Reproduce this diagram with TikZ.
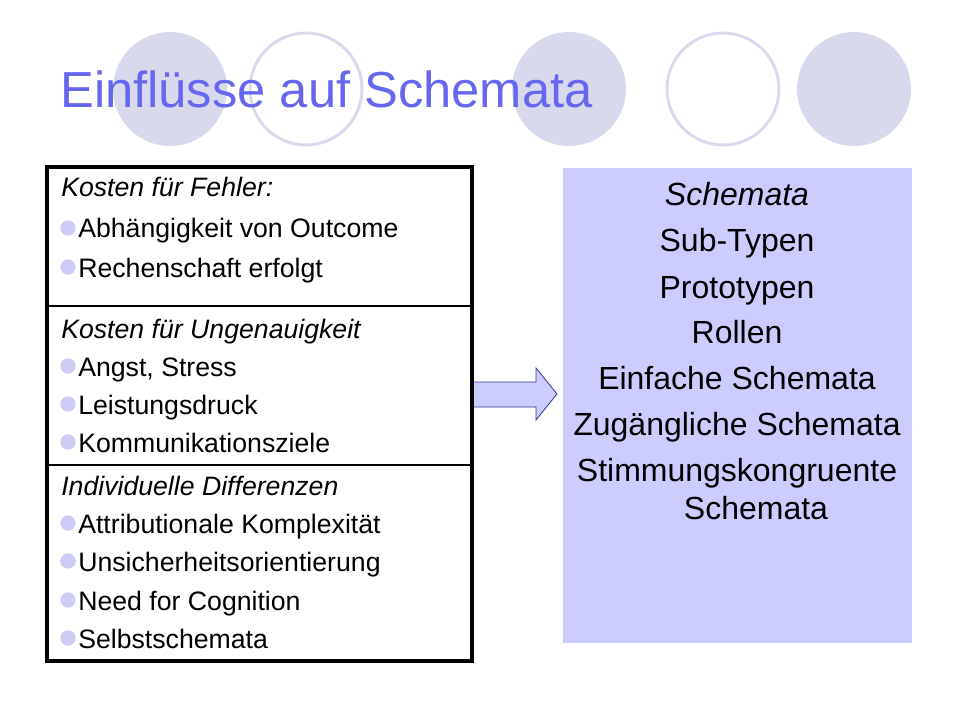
\documentclass[tikz,border=0pt]{standalone}
\usepackage{fontspec}
\setmainfont{Liberation Sans}
\definecolor{titleblue}{HTML}{6666EE}
\definecolor{circlefill}{HTML}{D9D9EE}
\definecolor{boxfill}{HTML}{CCCCFF}
\definecolor{bulletcol}{HTML}{CCCCF5}
\definecolor{arrowline}{HTML}{333399}
\begin{document}
\begin{tikzpicture}[x=0.75pt,y=-0.75pt,
  fullcirc/.style={fill=circlefill,draw=none},
  ringcirc/.style={draw=circlefill,line width=2.2pt,fill=white},
  heading/.style={anchor=base west,inner sep=0pt,font=\fontsize{20}{24}\selectfont\itshape},
  item/.style={anchor=base west,inner sep=0pt,font=\fontsize{20}{24}\selectfont},
  dot/.style={circle,fill=bulletcol,minimum size=11.5pt,inner sep=0pt},
  rline/.style={anchor=base,inner sep=0pt,font=\fontsize{24}{29}\selectfont},
  sepline/.style={line width=0.8pt}
]
\useasboundingbox (0,0) rectangle (960,720);
% decorative circles
\fill[fullcirc] (170,89) circle (57);
\draw[ringcirc] (306,89) circle (56);
\fill[fullcirc] (569,89) circle (57);
\draw[ringcirc] (723,89) circle (56);
\fill[fullcirc] (854,89) circle (57);
% title
\node[anchor=base west,inner sep=0pt,text=titleblue,font=\fontsize{38}{44}\selectfont] (title) at (60,108) {Einflüsse auf Schemata};
% left box
\coordinate (lbA) at (47,167);
\coordinate (lbB) at (472,661);
\draw[sepline] (47,306) -- (472,306);
\draw[sepline] (47,465) -- (472,465);
\draw[line width=2.4pt] (lbA) rectangle (lbB);
% section 1
\node[heading] (h1) at (61,197) {Kosten für Fehler:};
\node[dot] (d11) at (68,228) {}; \node[item] (i11) at (78,238) {Abhängigkeit von Outcome};
\node[dot] (d12) at (68,267) {}; \node[item] (i12) at (78,277) {Rechenschaft erfolgt};
% section 2
\node[heading] (h2) at (61,338) {Kosten für Ungenauigkeit};
\node[dot] (d21) at (68,366) {}; \node[item] (i21) at (78,376) {Angst, Stress};
\node[dot] (d22) at (68,404) {}; \node[item] (i22) at (78,414) {Leistungsdruck};
\node[dot] (d23) at (68,442) {}; \node[item] (i23) at (78,452) {Kommunikationsziele};
% section 3
\node[heading] (h3) at (61,495) {Individuelle Differenzen};
\node[dot] (d31) at (68,523) {}; \node[item] (i31) at (78,533) {Attributionale Komplexität};
\node[dot] (d32) at (68,561) {}; \node[item] (i32) at (78,571) {Unsicherheitsorientierung};
\node[dot] (d33) at (68,600) {}; \node[item] (i33) at (78,610) {Need for Cognition};
\node[dot] (d34) at (68,638) {}; \node[item] (i34) at (78,648) {Selbstschemata};
% right box
\fill[boxfill] (563,168) rectangle (912,643);
\node[rline,font=\fontsize{24}{29}\selectfont\itshape] (r0) at (737,206) {Schemata};
\node[rline] (r1) at (737,252) {Sub-Typen};
\node[rline] (r2) at (737,298) {Prototypen};
\node[rline] (r3) at (737,343) {Rollen};
\node[rline] (r4) at (737,389) {Einfache Schemata};
\node[rline] (r5) at (737,435) {Zugängliche Schemata};
\node[rline] (r6) at (737,481) {Stimmungskongruente};
\node[rline] (r7) at (756,519) {Schemata};
% block arrow
\draw[fill=boxfill,draw=arrowline,line width=0.6pt]
  (473,382) -- (536,382) -- (536,368) -- (557,394) -- (536,420) -- (536,407) -- (473,407) -- cycle;
\draw[line width=2.4pt] (472,370) -- (472,420);
\end{tikzpicture}
\end{document}
